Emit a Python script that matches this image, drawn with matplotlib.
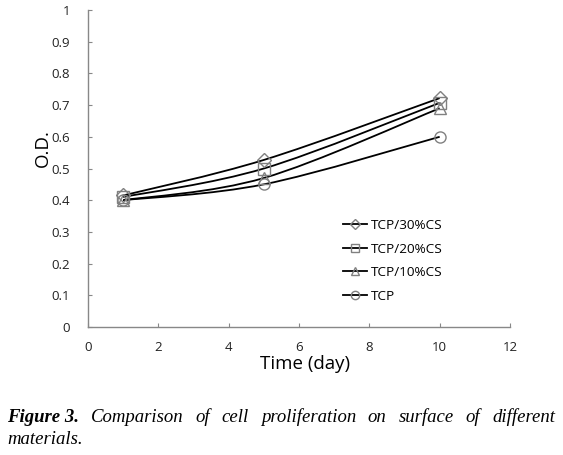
import matplotlib
matplotlib.use("Agg")
import matplotlib.pyplot as plt
from matplotlib.path import Path
from matplotlib.patches import PathPatch
from matplotlib.lines import Line2D
import numpy as np

days = [1, 5, 10]
series_names = ["TCP/30%CS", "TCP/20%CS", "TCP/10%CS", "TCP"]
tcp30 = [0.415, 0.527, 0.722]
tcp20 = [0.410, 0.500, 0.707]
tcp10 = [0.400, 0.470, 0.690]
tcp = [0.400, 0.450, 0.600]
markers = ["D", "s", "^", "o"]
msizes = [7, 8, 8, 8]
x_ticks = [0, 2, 4, 6, 8, 10, 12]
y_ticks = [0, 0.1, 0.2, 0.3, 0.4, 0.5, 0.6, 0.7, 0.8, 0.9, 1]

fig = plt.figure(figsize=(5.63, 4.55), dpi=100)
ax = fig.add_axes([88/563, 1-327/455, (510-88)/563, (327-10)/455])

def smooth_path(x, y):
    x = np.asarray(x, float); y = np.asarray(y, float)
    n = len(x)
    verts = [(x[0], y[0])]
    codes = [Path.MOVETO]
    for i in range(n - 1):
        p0 = np.array([x[max(i-1, 0)], y[max(i-1, 0)]])
        p1 = np.array([x[i], y[i]])
        p2 = np.array([x[i+1], y[i+1]])
        p3 = np.array([x[min(i+2, n-1)], y[min(i+2, n-1)]])
        c1 = p1 + (p2 - p0) / 6.0
        c2 = p2 - (p3 - p1) / 6.0
        verts += [tuple(c1), tuple(c2), tuple(p2)]
        codes += [Path.CURVE4] * 3
    return Path(verts, codes)

all_series = [tcp30, tcp20, tcp10, tcp]
for vals, m, ms in zip(all_series, markers, msizes):
    ax.add_patch(PathPatch(smooth_path(days, vals), fill=False, edgecolor="black", lw=1.3, zorder=3))
    ax.plot(days, vals, linestyle="none", marker=m, ms=ms, mfc="none", mec="#808080", mew=1.0, zorder=4)

ax.set_xlim(0, 12)
ax.set_ylim(0, 1)
ax.set_xticks(x_ticks)
ax.set_xticklabels([str(v) for v in x_ticks])
ax.set_yticks(y_ticks)
ax.set_yticklabels(["0" if v == 0 else ("1" if v == 1 else f"{v:.1f}") for v in y_ticks])
for s in ["top", "right"]:
    ax.spines[s].set_visible(False)
for s in ["left", "bottom"]:
    ax.spines[s].set_color("#888888")
    ax.spines[s].set_linewidth(1.0)
ax.tick_params(axis="both", direction="in", length=3, color="#888888", labelsize=9.5,
               labelcolor="#222222")
ax.tick_params(axis="y", pad=13)
ax.tick_params(axis="x", pad=10)
for lab in ax.get_xticklabels() + ax.get_yticklabels():
    lab.set_family("Open Sans")
ax.set_xlabel("Time (day)", fontsize=13.5, family="Open Sans")
ax.xaxis.set_label_coords((305-88)/422, -(364-327)/317)
ax.xaxis.label.set_va("center")
ax.set_ylabel("O.D.", fontsize=13.5, family="Open Sans")
ax.yaxis.set_label_coords(-45/422, (327-148)/317)
ax.yaxis.label.set_va("center")

handles = [Line2D([0], [0], color="black", lw=1.3, marker=m, ms=ms*0.75, mfc="none", mec="#808080", mew=1.0)
           for m, ms in zip(markers, msizes)]
leg = ax.legend(handles, series_names, loc="upper left", bbox_to_anchor=((331-88)/422, (327-207)/317),
                frameon=False, handlelength=1.8, handletextpad=0.25, labelspacing=0.78,
                prop={"family": "Open Sans", "size": 9.7})

# Caption, justified first line
fig.canvas.draw()
r = fig.canvas.get_renderer()
words = ["Figure 3.", "Comparison", "of", "cell", "proliferation", "on", "surface", "of", "different"]
y1 = 1 - 422/455
texts = []
for i, w in enumerate(words):
    t = fig.text(0, y1, w, fontsize=13.5, family="Liberation Serif", style="italic",
                 weight="bold" if i == 0 else "normal", va="baseline")
    texts.append(t)
widths = [t.get_window_extent(r).width for t in texts]
x0, x1 = 7, 555
gap = (x1 - x0 - sum(widths)) / (len(words) - 1)
x = x0
for t, w in zip(texts, widths):
    t.set_x(x / 563)
    x += w + gap
fig.text(7/563, 1 - 444/455, "materials.", fontsize=13.5, family="Liberation Serif",
         style="italic", va="baseline")

fig.savefig("out.png", dpi=100)
